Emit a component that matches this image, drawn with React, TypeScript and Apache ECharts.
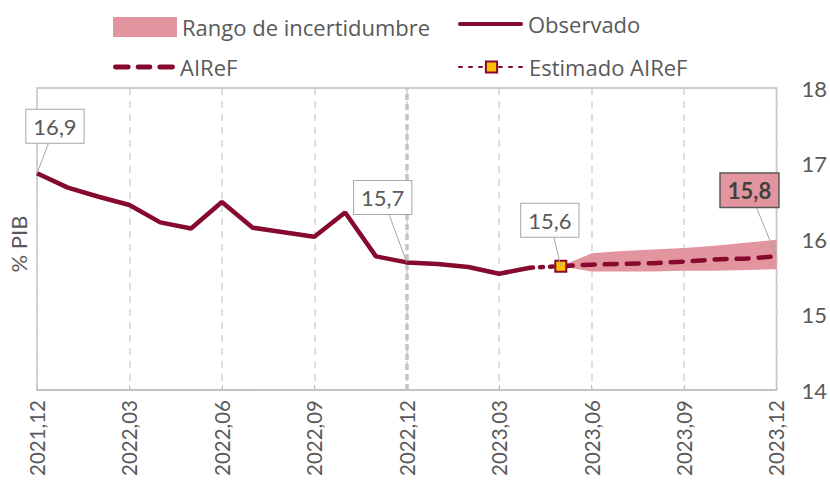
import React, { useEffect, useRef } from "react";
import * as echarts from "echarts";

const categories = [
  "2021,12", "2022,01", "2022,02", "2022,03", "2022,04", "2022,05", "2022,06",
  "2022,07", "2022,08", "2022,09", "2022,10", "2022,11", "2022,12",
  "2023,01", "2023,02", "2023,03", "2023,04", "2023,05", "2023,06",
  "2023,07", "2023,08", "2023,09", "2023,10", "2023,11", "2023,12",
];

const observado = [
  16.87, 16.68, 16.56, 16.45, 16.22, 16.14, 16.49, 16.15, 16.09, 16.03, 16.35, 15.77, 15.69,
  15.67, 15.63, 15.54, 15.62, null, null, null, null, null, null, null, null,
];
const estimado = [
  null, null, null, null, null, null, null, null, null, null, null, null, null,
  null, null, null, 15.62, 15.64, null, null, null, null, null, null, null,
];
const airef = [
  null, null, null, null, null, null, null, null, null, null, null, null, null,
  null, null, null, null, 15.64, 15.66, 15.67, 15.68, 15.70, 15.73, 15.74, 15.77,
];
const bandLower = [
  null, null, null, null, null, null, null, null, null, null, null, null, null,
  null, null, null, null, 15.64, 15.57, 15.57, 15.57, 15.58, 15.58, 15.59, 15.60,
];
const bandUpper = [
  null, null, null, null, null, null, null, null, null, null, null, null, null,
  null, null, null, null, 15.64, 15.81, 15.84, 15.86, 15.88, 15.91, 15.95, 15.99,
];
const yTicks = [14, 15, 16, 17, 18];

// callout annotations: which series / category index is labelled
const calloutIndex = [0, 12, 17, 24];
const calloutSource = [observado, observado, estimado, airef];
const calloutHighlight = [false, false, false, true];

const MAROON = "#860A2D";
const PINK = "#E3959F";
const YELLOW = "#FFC000";
const TEXT = "#595959";
const FONT = "Lato, 'Open Sans', sans-serif";
const LEGEND_FONT = "'Open Sans', Lato, sans-serif";

const fmt = (v: number) => v.toFixed(1).replace(".", ",");

export default function App() {
  const ref = useRef<HTMLDivElement>(null);

  useEffect(() => {
    if (!ref.current) return;
    const chart = echarts.init(ref.current, undefined, { renderer: "svg" });

    // label box offsets from the point (style, not data)
    const offsets: [number, number][] = [
      [18, -47],
      [-24, -65],
      [-11, -46],
      [-27, -66],
    ];

    const calloutData = calloutIndex.map((idx, k) => [
      idx,
      calloutSource[k][idx] as number,
      offsets[k][0],
      offsets[k][1],
      calloutHighlight[k] ? 1 : 0,
    ]);

    const legendBase = {
      orient: "horizontal" as const,
      padding: 0,
      itemWidth: 64,
      textStyle: { fontFamily: LEGEND_FONT, fontSize: 22, color: TEXT },
      selectedMode: false,
    };

    chart.setOption({
      animation: false,
      backgroundColor: "#FFFFFF",
      textStyle: { fontFamily: FONT },
      legend: [
        {
          ...legendBase,
          left: 113,
          top: 16,
          itemHeight: 20,
          data: [{ name: "Rango de incertidumbre", icon: "rect", itemStyle: { color: PINK } }],
        },
        {
          ...legendBase,
          left: 458,
          top: 13,
          itemWidth: 65,
          itemHeight: 5,
          data: [{ name: "Observado", icon: "path://M2,0H63A2,2 0 0 1 63,4H2A2,2 0 0 1 2,0Z", itemStyle: { color: MAROON } }],
        },
        {
          ...legendBase,
          left: 113,
          top: 56,
          itemWidth: 62,
          itemHeight: 5,
          data: [
            {
              name: "AIReF",
              icon: "path://M2,0H15A2,2 0 0 1 15,5H2A2,2 0 0 1 2,0Z M25,0H37A2,2 0 0 1 37,5H25A2,2 0 0 1 25,0Z M47,0H60A2,2 0 0 1 60,5H47A2,2 0 0 1 47,0Z",
              itemStyle: { color: MAROON },
            },
          ],
        },
        { ...legendBase, left: 458, top: 56, itemWidth: 65, itemHeight: 14, data: ["Estimado AIReF"] },
      ],
      grid: {
        left: 37,
        right: 51,
        top: 88,
        bottom: 98,
        show: true,
        borderColor: "#BFBFBF",
        borderWidth: 1.5,
        backgroundColor: "transparent",
      },
      xAxis: {
        type: "category",
        data: categories,
        boundaryGap: false,
        axisLine: { show: true, lineStyle: { color: "#BFBFBF", width: 1.5 } },
        axisTick: { show: true, inside: true, interval: 2, length: 5, lineStyle: { color: "#BFBFBF" } },
        axisLabel: {
          interval: 2,
          rotate: 90,
          margin: 10,
          fontFamily: FONT,
          fontSize: 20.5,
          color: TEXT,
        },
        splitLine: {
          show: true,
          interval: 2,
          lineStyle: { color: "#D4D4D4", width: 1.5, type: [7, 6] },
        },
      },
      yAxis: {
        type: "value",
        position: "right",
        min: yTicks[0],
        max: yTicks[yTicks.length - 1],
        interval: 1,
        axisLine: { show: false },
        axisTick: { show: false },
        splitLine: { show: false },
        axisLabel: { margin: 25, fontFamily: FONT, fontSize: 22, color: TEXT },
      },
      graphic: [
        {
          type: "text",
          left: 7,
          top: "middle",
          rotation: Math.PI / 2,
          style: { text: "% PIB", fontFamily: FONT, fontSize: 22, fill: TEXT },
        },
      ],
      series: [
        {
          name: "bandBase",
          type: "line",
          stack: "band",
          data: bandLower,
          symbol: "none",
          lineStyle: { opacity: 0 },
          areaStyle: { opacity: 0 },
          silent: true,
          z: 1,
        },
        {
          name: "Rango de incertidumbre",
          type: "line",
          stack: "band",
          data: bandUpper.map((u, i) =>
            u === null || bandLower[i] === null ? null : +(u - (bandLower[i] as number)).toFixed(3)
          ),
          symbol: "none",
          lineStyle: { opacity: 0, width: 0 },
          itemStyle: { color: PINK },
          areaStyle: { color: PINK, opacity: 1 },
          silent: true,
          z: 1,
        },
        {
          name: "Observado",
          type: "line",
          data: observado,
          symbol: "none",
          itemStyle: { color: MAROON },
          lineStyle: { color: MAROON, width: 4.5 },
          z: 3,
          markLine: {
            silent: true,
            symbol: "none",
            label: { show: false },
            lineStyle: { color: "#C4C4C4", width: 3.5, type: [6, 4] },
            data: [{ xAxis: categories[12] }],
            z: 2,
          },
        },
        {
          name: "Estimado AIReF",
          type: "line",
          data: estimado.map((v, i) =>
            v === null ? null : i === 17 ? { value: v, symbol: "rect" } : { value: v, symbol: "none" }
          ),
          symbol: "rect",
          symbolSize: 11,
          showSymbol: true,
          itemStyle: { color: YELLOW, borderColor: MAROON, borderWidth: 2 },
          lineStyle: { color: MAROON, width: 4.5, type: [3, 7], cap: "round" },
          z: 4,
        },
        {
          name: "AIReF",
          type: "line",
          data: airef,
          symbol: "none",
          itemStyle: { color: MAROON },
          lineStyle: { color: MAROON, width: 4.5, type: [12, 10], cap: "round" },
          z: 3,
        },
        {
          name: "callouts",
          type: "custom",
          data: calloutData,
          encode: { x: 0, y: 1 },
          z: 10,
          silent: true,
          renderItem: (params: any, api: any) => {
            const p = api.coord([api.value(0), api.value(1)]);
            const dx = api.value(2);
            const dy = api.value(3);
            const hi = api.value(4) === 1;
            const cx = p[0] + dx;
            const cy = p[1] + dy;
            return {
              type: "group",
              children: [
                {
                  type: "line",
                  shape: { x1: p[0], y1: p[1], x2: cx, y2: cy },
                  style: { stroke: "#A6A6A6", lineWidth: 1 },
                },
                {
                  type: "text",
                  x: cx,
                  y: cy,
                  style: {
                    text: fmt(api.value(1)),
                    fontFamily: FONT,
                    fontSize: 22,
                    fontWeight: hi ? "bold" : "normal",
                    fill: hi ? "#404040" : TEXT,
                    align: "center",
                    verticalAlign: "middle",
                    backgroundColor: hi ? PINK : "#FFFFFF",
                    borderColor: hi ? "#595959" : "#A6A6A6",
                    borderWidth: hi ? 1.5 : 1,
                    padding: [6, 7, 5, 7],
                  },
                },
              ],
            };
          },
        },
      ],
    });

    return () => chart.dispose();
  }, []);

  return (
    <div
      ref={ref}
      style={{ position: "absolute", left: 0, top: 0, width: 830, height: 488 }}
    />
  );
}
